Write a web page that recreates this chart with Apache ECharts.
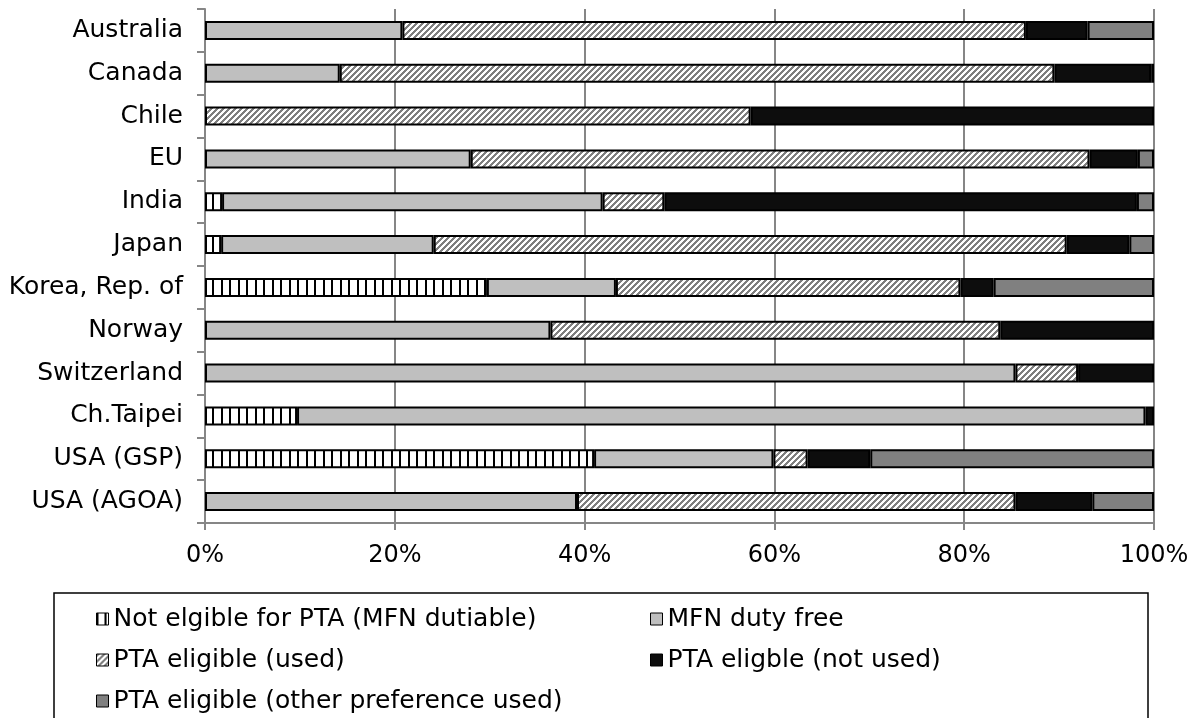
<!DOCTYPE html>
<html>
<head>
<meta charset="utf-8">
<script src="https://cdn.jsdelivr.net/npm/echarts@6/dist/echarts.min.js"></script>
<style>
html,body{margin:0;padding:0;background:#fff;}
#chart{width:1198px;height:718px;}
</style>
</head>
<body>
<div id="chart"></div>
<script>
// ---- Data (shares in %) ----
const categories = ['Australia','Canada','Chile','EU','India','Japan','Korea, Rep. of','Norway','Switzerland','Ch.Taipei','USA (GSP)','USA (AGOA)'];
const seriesNames = ['Not elgible for PTA (MFN dutiable)','MFN duty free','PTA eligible (used)','PTA eligble (not used)','PTA eligible (other preference used)'];
const notEligible   = [0,    0,    0,    0,    1.8,  1.7,  29.7, 0,    0,    9.7,  41.0, 0];
const mfnDutyFree   = [20.8, 14.2, 0,    28.0, 40.1, 22.4, 13.6, 36.4, 85.4, 89.4, 18.9, 39.2];
const ptaUsed       = [65.7, 75.3, 57.5, 65.2, 6.5,  66.7, 36.3, 47.4, 6.6,  0,    3.6,  46.2];
const ptaNotUsed    = [6.5,  10.2, 42.5, 5.1,  49.8, 6.6,  3.5,  16.2, 8.0,  0.9,  6.6,  8.1];
const ptaOtherPref  = [7.0,  0.3,  0,    1.7,  1.8,  2.6,  16.9, 0,    0,    0,    29.9, 6.5];
const xTicks = [0, 20, 40, 60, 80, 100];

// ---- Pattern fills ----
function stripeCanvas() {
  const c = document.createElement('canvas');
  c.width = 17; c.height = 4;
  const g = c.getContext('2d');
  g.fillStyle = '#fff'; g.fillRect(0,0,17,4);
  g.fillStyle = '#000';
  g.fillRect(0,0,2,4);
  g.fillRect(8,0,2,4);
  return c;
}
function hatchCanvas() {
  const n = 6;
  const c = document.createElement('canvas');
  c.width = n; c.height = n;
  const g = c.getContext('2d');
  g.fillStyle = '#fff'; g.fillRect(0,0,n,n);
  g.fillStyle = '#7f7f7f';
  for (let y = 0; y < n; y++) for (let x = 0; x < n; x++) {
    if ((x + y) % n < 3) g.fillRect(x, y, 1, 1);
  }
  return c;
}
const fills = [
  {image: stripeCanvas(), repeat: 'repeat'},
  '#bfbfbf',
  {image: hatchCanvas(), repeat: 'repeat'},
  '#0d0d0d',
  '#808080'
];
const values = [notEligible, mfnDutyFree, ptaUsed, ptaNotUsed, ptaOtherPref];

const FONT = 'DejaVu Sans';
const chart = echarts.init(document.getElementById('chart'), null, {renderer: 'canvas'});
const series = seriesNames.map((name, i) => ({
  name: name,
  type: 'bar',
  stack: 'total',
  barWidth: 19,
  data: values[i].map(v => v === 0 ? '-' : v),
  itemStyle: {color: fills[i], borderColor: '#000', borderWidth: 2},
  emphasis: {disabled: true},
  animation: false
}));

const legendBase = {
  orient: 'vertical', top: 605, itemGap: 13, padding: 0,
  itemWidth: 12, itemHeight: 12, icon: 'rect',
  itemStyle: {borderColor: '#000', borderWidth: 1},
  textStyle: {fontFamily: FONT, fontSize: 25, color: '#000', lineHeight: 28},
  selectedMode: false
};

chart.setOption({
  backgroundColor: '#fff',
  animation: false,
  grid: {left: 205, right: 44, top: 9, bottom: 195, containLabel: false},
  xAxis: {
    type: 'value', min: xTicks[0], max: xTicks[xTicks.length-1], interval: 20,
    axisLine: {show: true, lineStyle: {color: '#868686', width: 2}},
    axisTick: {show: true, length: 7, lineStyle: {color: '#868686', width: 2}},
    splitLine: {show: true, lineStyle: {color: '#868686', width: 2}},
    axisLabel: {formatter: v => v + '%', fontFamily: FONT, fontSize: 24, color: '#000', margin: 21}
  },
  yAxis: {
    type: 'category', data: categories, inverse: true,
    axisLine: {show: true, lineStyle: {color: '#868686', width: 2}},
    axisTick: {show: true, length: 8, lineStyle: {color: '#868686', width: 2}},
    axisLabel: {fontFamily: FONT, fontSize: 25, color: '#000', margin: 22}
  },
  legend: [
    Object.assign({}, legendBase, {data: [seriesNames[0], seriesNames[2], seriesNames[4]], left: 96}),
    Object.assign({}, legendBase, {data: [seriesNames[1], seriesNames[3]], left: 650})
  ],
  graphic: [{
    type: 'rect', silent: true,
    shape: {x: 54, y: 593, width: 1094, height: 200},
    style: {fill: 'none', stroke: '#000', lineWidth: 1.5}
  }],
  series: series
});
</script>
</body>
</html>
